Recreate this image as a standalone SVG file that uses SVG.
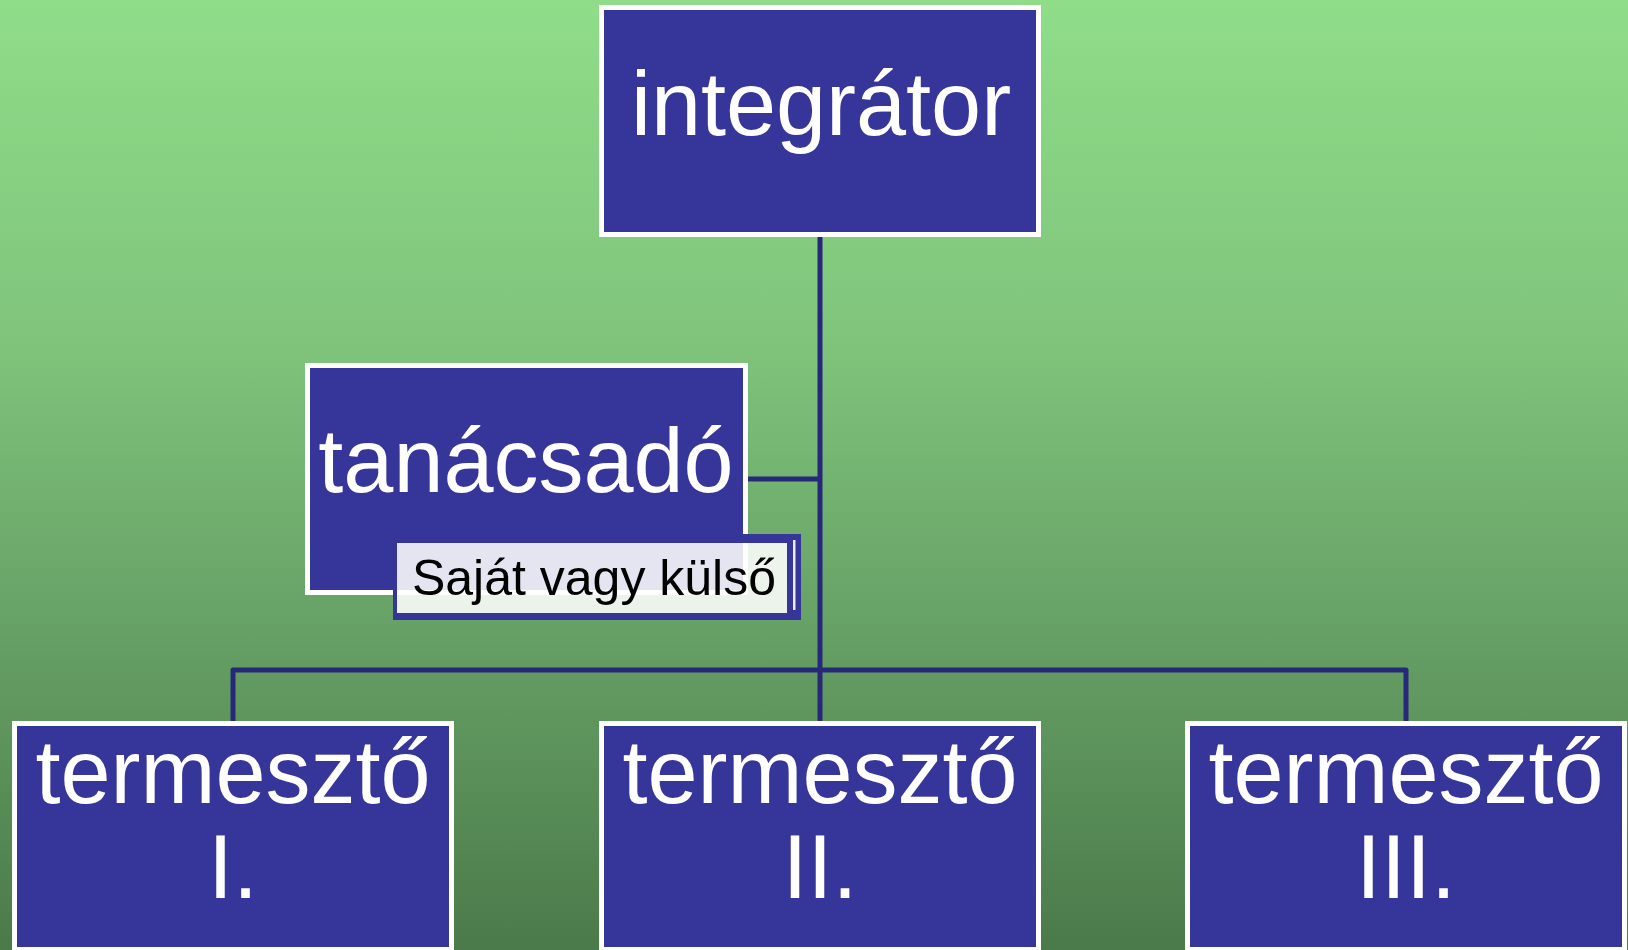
<svg xmlns="http://www.w3.org/2000/svg" width="1628" height="950" viewBox="0 0 1628 950">
  <defs>
    <linearGradient id="bg" x1="0" y1="0" x2="0" y2="1">
      <stop offset="0" stop-color="#8fdd89"/>
      <stop offset="0.37" stop-color="#7fc37b"/>
      <stop offset="0.64" stop-color="#68a367"/>
      <stop offset="1" stop-color="#4b7a4a"/>
    </linearGradient>
    <style>
      .box { fill: #363599; stroke: #ffffff; stroke-width: 5; }
      .lbl { font-family: "Liberation Sans", Arial, sans-serif; font-size: 90px; fill: #ffffff; text-anchor: middle; }
      .conn { fill: none; stroke: #28287a; stroke-width: 5; stroke-linejoin: round; }
      .note { font-family: "Liberation Sans", Arial, sans-serif; font-size: 50px; fill: #000000; text-anchor: middle; }
    </style>
  </defs>
  <rect x="0" y="0" width="1628" height="950" fill="url(#bg)"/>

  <g id="connectors">
    <path class="conn" d="M820 237 V721"/>
    <path class="conn" d="M233 721 V670 H1406 V721"/>
    <path class="conn" d="M748 479 H820"/>
  </g>

  <g id="node-integrator">
    <rect class="box" x="601.5" y="7.5" width="437" height="227"/>
    <text class="lbl" x="821" y="135">integrátor</text>
  </g>

  <g id="node-tanacsado">
    <rect class="box" x="307.5" y="365.5" width="438" height="227"/>
    <text class="lbl" x="526" y="492">tanácsadó</text>
  </g>

  <g id="note-sajat">
    <path d="M393 534 H801 V620 H393 Z M397 543 V613 H787 V543 Z" fill="#363599" fill-rule="evenodd"/>
    <rect x="397" y="543" width="390" height="70" fill="#ffffff" fill-opacity="0.87"/>
    <rect x="793" y="540" width="2.5" height="70" fill="#ffffff" fill-opacity="0.9"/>
    <text class="note" x="594" y="595">Saját vagy külső</text>
  </g>

  <g id="node-termeszto-1">
    <rect class="box" x="14.5" y="723.5" width="437" height="226"/>
    <text class="lbl" x="233" y="803">termesztő</text>
    <text class="lbl" x="233" y="898">I.</text>
  </g>

  <g id="node-termeszto-2">
    <rect class="box" x="601.5" y="723.5" width="437" height="226"/>
    <text class="lbl" x="820" y="803">termesztő</text>
    <text class="lbl" x="820" y="898">II.</text>
  </g>

  <g id="node-termeszto-3">
    <rect class="box" x="1187.5" y="723.5" width="437" height="226"/>
    <text class="lbl" x="1406" y="803">termesztő</text>
    <text class="lbl" x="1406" y="898">III.</text>
  </g>
</svg>
